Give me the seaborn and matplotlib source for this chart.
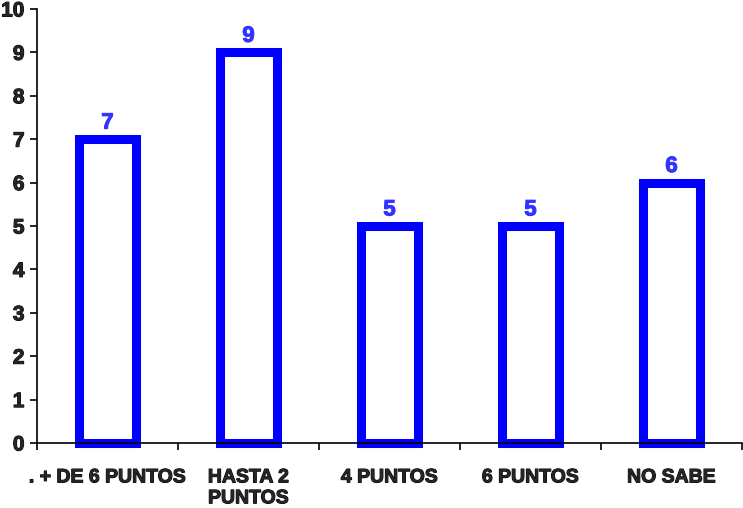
import matplotlib
matplotlib.use("Agg")
import matplotlib.pyplot as plt
from matplotlib import font_manager
import matplotlib.patheffects as pe
import seaborn as sns
import pandas as pd

categories = [". + DE 6 PUNTOS", "HASTA 2\nPUNTOS", "4 PUNTOS", "6 PUNTOS", "NO SABE"]
values = [7, 9, 5, 5, 6]
y_ticks = list(range(0, 11))

sns.set_style("white")
plt.rcParams["font.family"] = ["Liberation Sans", "DejaVu Sans"]

# bold Arial-like face taken straight from its file
bold_file = None
for f in font_manager.findSystemFonts():
    if f.split("/")[-1].startswith("LiberationSans-Bold."):
        bold_file = f
        break


def fp(size):
    if bold_file:
        return font_manager.FontProperties(fname=bold_file, size=size)
    return font_manager.FontProperties(family="DejaVu Sans", weight="bold", size=size)


def heavy(t, color):
    t.set_path_effects([pe.withStroke(linewidth=0.75, foreground=color)])


df = pd.DataFrame({"categoria": categories, "valor": values})

fig = plt.figure(figsize=(7.43, 5.08), dpi=100)
ax = fig.add_axes([37 / 743, 1 - 443 / 508, 705 / 743, 434 / 508])

sns.barplot(data=df, x="categoria", y="valor", ax=ax, color="white",
            edgecolor="#0000FF", linewidth=6.5, width=0.41, saturation=1)
for p in ax.patches:
    p.set_facecolor("white")
    p.set_joinstyle("miter")
    p.set_clip_on(False)

texts = ax.bar_label(ax.containers[0], labels=[str(v) for v in values], padding=4,
                     color="#3333FF")
for t in texts:
    t.set_fontproperties(fp(16))
    heavy(t, "#3333FF")

ax.set_xlim(-0.5, len(categories) - 0.5)
ax.set_ylim(0, 10)
ax.set_yticks(y_ticks)
ax.set_yticklabels([str(t) for t in y_ticks])
for t in ax.get_yticklabels():
    t.set_fontproperties(fp(15))
    heavy(t, "black")
ax.set_xticks(range(len(categories)))
ax.set_xticklabels(categories)
for t in ax.get_xticklabels():
    t.set_fontproperties(fp(14))
    t.set_linespacing(1.3)
    heavy(t, "black")
ax.set_xlabel("")
ax.set_ylabel("")

# category boundary ticks on the x axis
ax.set_xticks([i - 0.5 for i in range(len(categories) + 1)], minor=True)
ax.tick_params(axis="x", which="major", length=0, pad=19)
ax.tick_params(axis="x", which="minor", length=5, width=1.2, direction="out", color="black", bottom=True)
ax.tick_params(axis="y", length=5, width=1.2, direction="out", color="black", pad=4, left=True)

for side in ["top", "right"]:
    ax.spines[side].set_visible(False)
for side in ["left", "bottom"]:
    ax.spines[side].set_color("black")
    ax.spines[side].set_linewidth(1.2)

fig.savefig("out.png", dpi=100, facecolor="white")
